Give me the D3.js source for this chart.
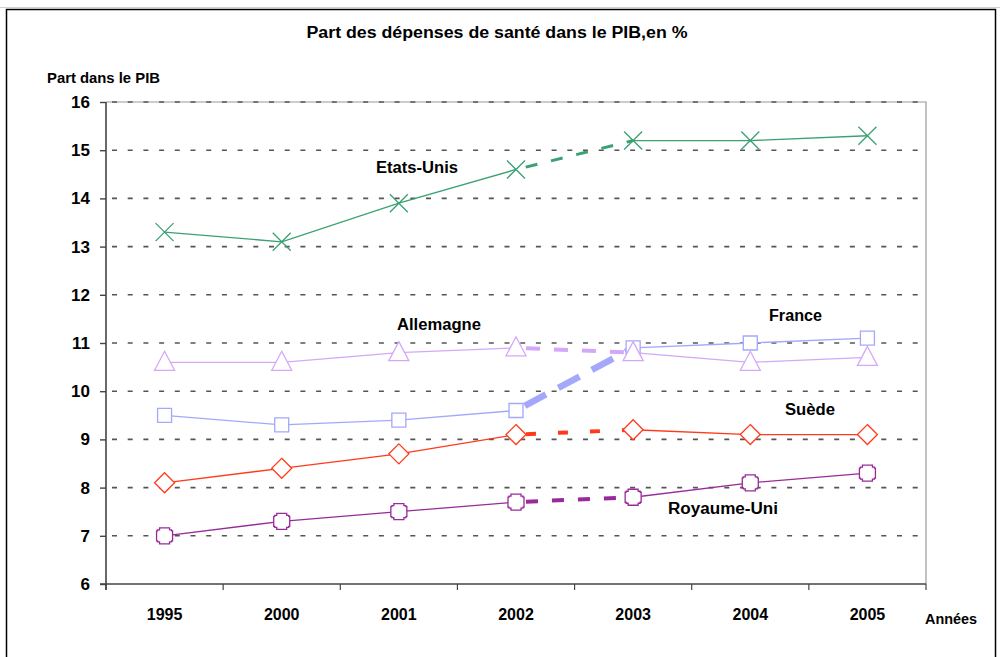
<!DOCTYPE html>
<html>
<head>
<meta charset="utf-8">
<script src="https://cdn.jsdelivr.net/npm/d3@7"></script>
<style>
  html, body { margin: 0; padding: 0; background: #fff; }
  svg text { font-family: "Liberation Sans", Arial, sans-serif; font-weight: bold; fill: #000; }
</style>
</head>
<body>
<svg id="chart" width="1000" height="657"></svg>
<script>
// ---- Data ----
const years = ["1995", "2000", "2001", "2002", "2003", "2004", "2005"];
const etatsUnis  = [13.3, 13.1, 13.9, 14.6, 15.2, 15.2, 15.3];
const allemagne  = [10.6, 10.6, 10.8, 10.9, 10.8, 10.6, 10.7];
const france     = [9.5, 9.3, 9.4, 9.6, 10.9, 11.0, 11.1];
const suede      = [8.1, 8.4, 8.7, 9.1, 9.2, 9.1, 9.1];
const royaumeUni = [7.0, 7.3, 7.5, 7.7, 7.8, 8.1, 8.3];
const yTicks = [6, 7, 8, 9, 10, 11, 12, 13, 14, 15, 16];
const seriesNames = ["Etats-Unis", "France", "Allemagne", "Suède", "Royaume-Uni"];
const title = "Part des dépenses de santé dans le PIB,en %";
const yTitle = "Part dans le PIB";
const xTitle = "Années";

// ---- Setup ----
const svg = d3.select("#chart");
const L = 106, R = 926, T = 102, B = 584;
const x = d3.scaleBand().domain(years).range([L, R]).padding(0);
const y = d3.scaleLinear().domain([6, 16]).range([B, T]);
const cx = d => x(d) + x.bandwidth() / 2;

// outer frame
svg.append("line").attr("x1", 0).attr("x2", 1000).attr("y1", 7.5).attr("y2", 7.5)
  .attr("stroke", "#d0d0d0").attr("stroke-width", 1);
svg.append("rect").attr("x", 6.5).attr("y", 9.5).attr("width", 989).attr("height", 660)
  .attr("fill", "none").attr("stroke", "#000").attr("stroke-width", 1.5);

// plot area border (top + right)
svg.append("path").attr("d", `M${L},${T}H${R}V${B}`)
  .attr("fill", "none").attr("stroke", "#9a9a9a").attr("stroke-width", 1.2);

// gridlines
svg.append("g").selectAll("line").data(yTicks.filter(t => t > 6)).join("line")
  .attr("x1", L).attr("x2", R).attr("y1", d => y(d)).attr("y2", d => y(d))
  .attr("stroke", "#555").attr("stroke-width", 1.6).attr("stroke-dasharray", "5,10.7")
  .attr("stroke-dashoffset", -6);

// y axis
const yAxis = svg.append("g").attr("transform", `translate(${L},0)`)
  .call(d3.axisLeft(y).tickValues(yTicks).tickSize(6).tickPadding(10).tickFormat(d3.format("d")));
yAxis.select(".domain").attr("stroke", "#444").attr("stroke-width", 1.6).attr("d", `M0,${T}V${B + 6}`);
yAxis.selectAll(".tick line").attr("stroke", "#444").attr("stroke-width", 1.4);
yAxis.selectAll(".tick text").style("font-size", "17px").attr("font-weight", "bold").attr("fill", "#000");

// x axis
const xAxis = svg.append("g").attr("transform", `translate(0,${B})`)
  .call(d3.axisBottom(x).tickSize(0).tickPadding(25));
xAxis.select(".domain").attr("stroke", "#444").attr("stroke-width", 1.6).attr("d", `M${L - 6},0H${R}`);
xAxis.selectAll(".tick text").style("font-size", "16px").attr("fill", "#000");
const bounds = years.map(d => x(d)).concat([R]);
xAxis.append("g").selectAll("line").data(bounds).join("line")
  .attr("x1", d => d).attr("x2", d => d).attr("y1", 0).attr("y2", 6)
  .attr("stroke", "#444").attr("stroke-width", 1.2);

// titles
svg.append("text").attr("x", 497).attr("y", 38).attr("text-anchor", "middle")
  .style("font-size", "16px").attr("textLength", 381).attr("lengthAdjust", "spacingAndGlyphs").text(title);
svg.append("text").attr("x", 47).attr("y", 83).style("font-size", "15px")
  .attr("textLength", 113).attr("lengthAdjust", "spacingAndGlyphs").text(yTitle);
svg.append("text").attr("x", 925).attr("y", 624).style("font-size", "15px")
  .attr("textLength", 52).attr("lengthAdjust", "spacingAndGlyphs").text(xTitle);

// ---- series ----
const markerPaths = {
  x: "M-9,-9L9,9M-9,9L9,-9",
  tri: "M0,-11L10,8L-10,8Z",
  sq: "M-7,-7H7V7H-7Z",
  dia: "M0,-10L10,0L0,10L-10,0Z",
  oct: "M-5,-8H5V-6H7V-5H8V5H7V6H5V8H-5V6H-7V5H-8V-5H-7V-6H-5Z"
};
const series = [
  { name: seriesNames[0], values: etatsUnis, color: "#3aa172", marker: "x", dashW: 3, dash: "12,14", fill: "none" },
  { name: seriesNames[1], values: france, color: "#a3a8fb", marker: "sq", dashW: 6.5, dash: "24,14", fill: "#fff" },
  { name: seriesNames[2], values: allemagne, color: "#d4a8f8", marker: "tri", dashW: 4, dash: "14,14", fill: "#fff" },
  { name: seriesNames[3], values: suede, color: "#ff3a1a", marker: "dia", dashW: 4, dash: "10,22", fill: "#fff" },
  { name: seriesNames[4], values: royaumeUni, color: "#992a99", marker: "oct", dashW: 4, dash: "12,14", fill: "#fff" }
];

const line = d3.line().x(d => cx(d.year)).y(d => y(d.v));

series.forEach(s => {
  const pts = years.map((yr, i) => ({ year: yr, v: s.values[i] }));
  const g = svg.append("g");
  g.append("path").attr("d", line(pts.slice(0, 4))).attr("fill", "none")
    .attr("stroke", s.color).attr("stroke-width", 1.3);
  g.append("path").attr("d", line(pts.slice(4))).attr("fill", "none")
    .attr("stroke", s.color).attr("stroke-width", 1.3);
  g.append("path").attr("d", line(pts.slice(3, 5))).attr("fill", "none")
    .attr("stroke", s.color).attr("stroke-width", s.dashW).attr("stroke-dasharray", s.dash)
    .attr("stroke-dashoffset", -10);
  s.g = g; s.pts = pts;
});
series.forEach(s => {
  s.g.selectAll("path.mk").data(s.pts).join("path").attr("class", "mk")
    .attr("transform", d => `translate(${cx(d.year)},${y(d.v)})`)
    .attr("d", markerPaths[s.marker])
    .attr("fill", s.fill).attr("stroke", s.color).attr("stroke-width", 1.3);
});

// series labels
const labels = [
  { text: seriesNames[0], x: 376, y: 173, w: 82 },
  { text: seriesNames[2], x: 397, y: 330, w: 84 },
  { text: seriesNames[1], x: 769, y: 321, w: 53 },
  { text: seriesNames[3], x: 785, y: 415, w: 50 },
  { text: seriesNames[4], x: 668, y: 514, w: 110 }
];
svg.append("g").selectAll("text").data(labels).join("text")
  .attr("x", d => d.x).attr("y", d => d.y).style("font-size", "16px")
  .attr("textLength", d => d.w).attr("lengthAdjust", "spacingAndGlyphs")
  .text(d => d.text);
</script>
</body>
</html>
